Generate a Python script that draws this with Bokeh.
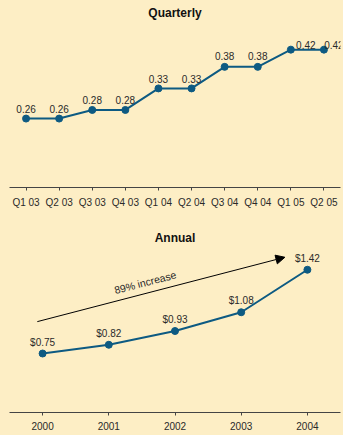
from bokeh.plotting import figure
from bokeh.layouts import column
from bokeh.models import ColumnDataSource, FactorRange, Range1d, Arrow, NormalHead, Label
from bokeh.core.properties import value
from bokeh.embed import file_html
from bokeh.resources import INLINE
import math

# Quarterly earnings per share
quarters = ["Q1 03", "Q2 03", "Q3 03", "Q4 03", "Q1 04",
            "Q2 04", "Q3 04", "Q4 04", "Q1 05", "Q2 05"]
quarterly_eps = [0.26, 0.26, 0.28, 0.28, 0.33, 0.33, 0.38, 0.38, 0.42, 0.42]

# Annual earnings per share
years = ["2000", "2001", "2002", "2003", "2004"]
annual_eps = [0.75, 0.82, 0.93, 1.08, 1.42]

BG = "#FDEEC5"
LINE = "#0D5A82"
TEXT = "#2a2a2a"
FONT = "Liberation Sans"


def style(p, standoff):
    p.background_fill_color = BG
    p.border_fill_color = BG
    p.outline_line_color = None
    p.xgrid.grid_line_color = None
    p.ygrid.grid_line_color = None
    p.yaxis.visible = False
    p.xaxis.axis_line_color = "#444444"
    p.xaxis.major_tick_line_color = "#444444"
    p.xaxis.major_tick_in = 0
    p.xaxis.major_tick_out = 3
    p.xaxis.major_label_text_font = FONT
    p.xaxis.major_label_text_font_size = "10px"
    p.xaxis.major_label_text_color = TEXT
    p.xaxis.major_label_standoff = 6
    p.title.text_font = FONT
    p.title.text_font_size = "12px"
    p.title.text_font_style = "bold"
    p.title.text_color = "#111111"
    p.title.align = "center"
    p.title.standoff = standoff


# ---- Quarterly ----
q = figure(width=343, height=220, x_range=FactorRange(*quarters, range_padding=0),
           y_range=Range1d(0.10, 0.483), title="Quarterly",
           output_backend="svg", toolbar_location=None,
           min_border_left=9, min_border_right=3, min_border_top=22, min_border_bottom=33)
style(q, 6)

# label placement tweaks (the last two labels sit to the right)
q_dx = [0, 0, 0, 0, 0, 0, 0, 0, 15, 10]
q_dy = [-6, -6, -6, -6, -5, -5, -7, -7, -1, -1]
qsrc = ColumnDataSource(dict(x=quarters, y=quarterly_eps,
                             lbl=[f"{v:.2f}" for v in quarterly_eps],
                             dx=q_dx, dy=q_dy))
q.line("x", "y", source=qsrc, line_color=LINE, line_width=2)
q.scatter("x", "y", source=qsrc, size=7, fill_color=LINE, line_color=LINE)
q.text("x", "y", text="lbl", source=qsrc, x_offset="dx", y_offset="dy",
       text_align="center", text_baseline="bottom",
       text_font=value(FONT), text_font_size="10px", text_color=TEXT)

# ---- Annual ----
a = figure(width=343, height=215, x_range=FactorRange(*years, range_padding=0),
           y_range=Range1d(0.278, 1.582), title="Annual",
           output_backend="svg", toolbar_location=None,
           min_border_left=8, min_border_right=2, min_border_top=29, min_border_bottom=23)
style(a, 10)

asrc = ColumnDataSource(dict(x=years, y=annual_eps,
                             lbl=[f"${v:.2f}" for v in annual_eps]))
a.line("x", "y", source=asrc, line_color=LINE, line_width=2)
a.scatter("x", "y", source=asrc, size=7, fill_color=LINE, line_color=LINE)
a.text("x", "y", text="lbl", source=asrc, y_offset=-6,
       text_align="center", text_baseline="bottom",
       text_font=value(FONT), text_font_size="10px", text_color=TEXT)

# growth arrow across the five years
growth = annual_eps[-1] / annual_eps[0] - 1
a.add_layout(Arrow(x_start=0.42, y_start=1.005, x_end=4.16, y_end=1.52,
                   line_color="black", line_width=1,
                   end=NormalHead(size=9, fill_color="black", line_color="black")))
a.add_layout(Label(x=2.05, y=1.32, text=f"{growth:.0%} increase",
                   angle=14.5 * math.pi / 180, text_align="center",
                   text_baseline="middle", text_font=FONT,
                   text_font_size="10.5px", text_color=TEXT))

layout = column(q, a, spacing=0)
layout.styles = {"background-color": BG}
open("out.html", "w").write(file_html(layout, INLINE))
